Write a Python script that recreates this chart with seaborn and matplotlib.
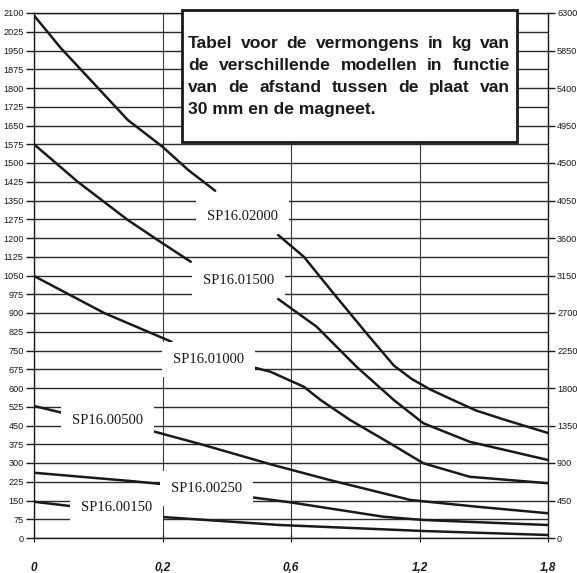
import numpy as np
import matplotlib
matplotlib.use("Agg")
import matplotlib.pyplot as plt
from matplotlib.patches import Rectangle
import seaborn as sns

# ---------------- data ----------------
x_tick_pos = [0, 1, 2, 3, 4]
x_tick_labels = ["0", "0,2", "0,6", "1,2", "1,8"]
left_ticks = list(range(0, 2101, 75))
right_ticks = list(range(0, 6301, 450))

sp02000_x1 = [0, 0.21, 0.5, 0.73, 1.0, 1.2, 1.41]
sp02000_y1 = [2090, 1959, 1799, 1672, 1565, 1472, 1389]
sp02000_x2 = [1.90, 2.10, 2.33, 2.61, 2.80, 2.94, 3.08, 3.29, 3.44, 3.65, 4.0]
sp02000_y2 = [1212, 1125, 979, 805, 690, 636, 595, 545, 510, 475, 420]

sp01500_x1 = [0, 0.34, 0.73, 1.0, 1.22]
sp01500_y1 = [1575, 1425, 1272, 1179, 1105]
sp01500_x2 = [1.90, 2.20, 2.51, 2.80, 3.03, 3.39, 4.0]
sp01500_y2 = [956, 845, 685, 552, 459, 385, 312]

sp01000_x1 = [0, 0.55, 1.07]
sp01000_y1 = [1048, 899, 785]
sp01000_x2 = [1.69, 1.84, 2.10, 2.23, 2.46, 2.77, 3.03, 3.39, 4.0]
sp01000_y2 = [685, 665, 605, 552, 472, 379, 299, 245, 219]

sp00500_x1 = [0, 0.26]
sp00500_y1 = [528, 496]
sp00500_x2 = [0.89, 1.32, 1.84, 2.30, 2.93, 3.45, 4.0]
sp00500_y2 = [432, 372, 295, 232, 152, 125, 99]

sp00250_x1 = [0, 0.75, 0.99]
sp00250_y1 = [261, 228, 216]
sp00250_x2 = [1.66, 1.99, 2.72, 3.03, 4.0]
sp00250_y2 = [165, 143, 85, 72, 52]

sp00150_x1 = [0, 0.33]
sp00150_y1 = [145, 125]
sp00150_x2 = [0.97, 1.91, 3.03, 4.0]
sp00150_y2 = [85, 52, 28, 12]

curve_names = ["SP16.02000", "SP16.01500", "SP16.01000",
               "SP16.00500", "SP16.00250", "SP16.00150"]
label_x = [1.62, 1.59, 1.36, 0.57, 1.34, 0.64]
label_y = [1285, 1032, 715, 472, 199, 123]

title_lines = ["Tabel voor de vermongens in kg van",
               "de verschillende modellen in functie",
               "van de afstand tussen de plaat van",
               "30 mm en de magneet."]

# ---------------- figure ----------------
sns.set_theme(style="white")
plt.rcParams["font.family"] = ["Liberation Sans", "DejaVu Sans"]

W, H = 577, 573
fig = plt.figure(figsize=(W / 100, H / 100), dpi=100)
L, R, T, B = 34, 548, 13, 538
ax = fig.add_axes([L / W, 1 - B / H, (R - L) / W, (B - T) / H])

ink = "#1a1a1a"
segments = [
    (sp02000_x1, sp02000_y1), (sp02000_x2, sp02000_y2),
    (sp01500_x1, sp01500_y1), (sp01500_x2, sp01500_y2),
    (sp01000_x1, sp01000_y1), (sp01000_x2, sp01000_y2),
    (sp00500_x1, sp00500_y1), (sp00500_x2, sp00500_y2),
    (sp00250_x1, sp00250_y1), (sp00250_x2, sp00250_y2),
    (sp00150_x1, sp00150_y1), (sp00150_x2, sp00150_y2),
]
for xs, ys in segments:
    sns.lineplot(x=xs, y=ys, ax=ax, color=ink, linewidth=1.8,
                 sort=False, estimator=None, legend=False, zorder=4)

tick_fs = 6.6
ax.set_xlim(0, 4)
ax.set_ylim(0, 2100)
ax.set_xticks(x_tick_pos)
ax.set_xticklabels(x_tick_labels, fontsize=8.5, fontstyle="italic",
                   fontweight="bold", color=ink)
ax.set_yticks(left_ticks)
ax.set_yticklabels([str(v) for v in left_ticks], fontsize=tick_fs, color=ink)
ax.set_axisbelow(True)
ax.yaxis.grid(True, color="#2a2a2a", linewidth=1.0)
ax.xaxis.grid(True, color="#3a3a3a", linewidth=0.8)
ax.tick_params(axis="y", direction="out", length=6, width=1.0, color=ink, pad=1.5, left=True)
ax.tick_params(axis="x", direction="inout", length=6, width=0.8, color=ink, pad=14, bottom=True)
for s in ax.spines.values():
    s.set_color(ink)
    s.set_linewidth(1.0)
ax.set_xlabel("")
ax.set_ylabel("")

ax2 = ax.twinx()
ax2.set_ylim(0, 6300)
ax2.set_yticks(right_ticks)
ax2.set_yticklabels([str(v) for v in right_ticks], fontsize=tick_fs, color=ink)
ax2.tick_params(axis="y", direction="out", length=5, width=1.0, color=ink, pad=1.5, right=True)
ax2.grid(False)
for s in ax2.spines.values():
    s.set_visible(False)

for name, lx, ly in zip(curve_names, label_x, label_y):
    ax.text(lx, ly, name, ha="center", va="center", fontsize=10.5, color=ink,
            family=["Liberation Serif", "DejaVu Serif"], zorder=5,
            bbox=dict(boxstyle="square,pad=0.75", fc="white", ec="none"))

# title box
bx0, bx1, by0, by1 = 182, 517, 10, 142
fig.add_artist(Rectangle((bx0 / W, 1 - by1 / H), (bx1 - bx0) / W, (by1 - by0) / H,
                         transform=fig.transFigure, fc="white", ec=ink, lw=2.0, zorder=10))

renderer = fig.canvas.get_renderer()
tx0, tx1 = 188, 510
line_base = [48, 70, 92, 114]
fs = 12.6
for i, line in enumerate(title_lines):
    words = line.split()
    yf = 1 - line_base[i] / H
    if i < len(title_lines) - 1:
        widths = []
        for w in words:
            t = fig.text(0, 0, w, fontsize=fs, fontweight="bold")
            widths.append(t.get_window_extent(renderer).width)
            t.remove()
        gap = ((tx1 - tx0) - sum(widths)) / (len(words) - 1)
        x = tx0
        for w, wd in zip(words, widths):
            fig.text(x / W, yf, w, fontsize=fs, fontweight="bold", color=ink,
                     ha="left", va="baseline", zorder=11)
            x += wd + gap
    else:
        fig.text(tx0 / W, yf, line, fontsize=fs, fontweight="bold", color=ink,
                 ha="left", va="baseline", zorder=11)

fig.savefig("out.png", dpi=100, facecolor="white")
